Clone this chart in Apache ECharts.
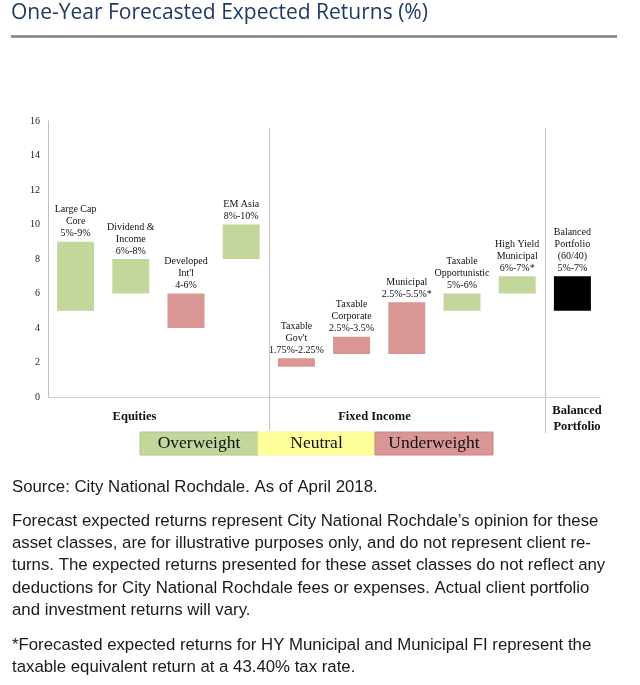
<!DOCTYPE html>
<html>
<head>
<meta charset="utf-8">
<script src="https://cdn.jsdelivr.net/npm/echarts@6/dist/echarts.min.js"></script>
<style>
html,body{margin:0;padding:0;background:#fff;}
#chart{width:640px;height:685px;}
</style>
</head>
<body>
<div id="chart"></div>
<script>
const categories = ["Large Cap Core", "Dividend & Income", "Developed Int'l", "EM Asia", "Taxable Gov't", "Taxable Corporate", "Municipal", "Taxable Opportunistic", "High Yield Municipal", "Balanced Portfolio (60/40)"];
const lows  = [5, 6, 4, 8, 1.75, 2.5, 2.5, 5, 6, 5];
const highs = [9, 8, 6, 10, 2.25, 3.5, 5.5, 6, 7, 7];
const stances = ["Overweight", "Overweight", "Underweight", "Overweight", "Underweight", "Underweight", "Underweight", "Overweight", "Overweight", "Balanced"];
const barLabels = [
  "Large Cap\nCore\n5%-9%",
  "Dividend &\nIncome\n6%-8%",
  "Developed\nInt'l\n4-6%",
  "EM Asia\n8%-10%",
  "Taxable\nGov't\n1.75%-2.25%",
  "Taxable\nCorporate\n2.5%-3.5%",
  "Municipal\n2.5%-5.5%*",
  "Taxable\nOpportunistic\n5%-6%",
  "High Yield\nMunicipal\n6%-7%*",
  "Balanced\nPortfolio\n(60/40)\n5%-7%"
];
const groupNames = ["Equities", "Fixed Income", "Balanced\nPortfolio"];
const legendItems = ["Overweight", "Neutral", "Underweight"];
const yMin = 0, yMax = 16, yInterval = 2;

const title = "One-Year Forecasted Expected Returns (%)";
const sourceText = "Source: City National Rochdale. As of April 2018.";
const disclaimerLines = [
  "Forecast expected returns represent City National Rochdale\u2019s opinion for these",
  "asset classes, are for illustrative purposes only, and do not represent client re-",
  "turns. The expected returns presented for these asset classes do not reflect any",
  "deductions for City National Rochdale fees or expenses. Actual client portfolio",
  "and investment returns will vary."
];
const footnoteLines = [
  "*Forecasted expected returns for HY Municipal and Municipal FI represent the",
  "taxable equivalent return at a 43.40% tax rate."
];

const colors = {Overweight: "#c3d69b", Neutral: "#ffff99", Underweight: "#d99694", Balanced: "#000000"};
const borders = {Overweight: "#b0c585", Neutral: "#f5f5a0", Underweight: "#c98583"};
const serif = "'Liberation Serif', 'DejaVu Serif', serif";
const sans = "'Liberation Sans', Arial, sans-serif";

const chart = echarts.init(document.getElementById('chart'), null, {renderer: 'canvas'});
const option = {
  animation: false,
  backgroundColor: '#fff',
  grid: {left: 48, right: 40, top: 121, bottom: 288, containLabel: false},
  xAxis: {
    type: 'category',
    data: categories,
    axisLine: {show: true, lineStyle: {color: '#d0d0d0', width: 1}},
    axisTick: {show: false},
    axisLabel: {show: false},
    splitLine: {show: false}
  },
  yAxis: {
    type: 'value',
    min: yMin, max: yMax, interval: yInterval,
    axisLine: {show: true, lineStyle: {color: '#bfbfbf', width: 1}},
    axisTick: {show: false},
    splitLine: {show: false},
    axisLabel: {fontFamily: serif, fontSize: 10, color: '#1a1a1a', margin: 8}
  },
  series: [
    {
      type: 'bar', stack: 'r', silent: true,
      data: lows,
      itemStyle: {color: 'transparent'},
      barWidth: 37
    },
    {
      type: 'bar', stack: 'r',
      data: highs.map((h, i) => ({value: h - lows[i], itemStyle: {color: colors[stances[i]]}})),
      barWidth: 37,
      label: {
        show: true, position: 'top', distance: 2,
        fontFamily: serif, fontSize: 10, color: '#111', lineHeight: 12, align: 'center',
        formatter: p => barLabels[p.dataIndex]
      }
    }
  ]
};
chart.setOption(option);

function px(i) { return chart.convertToPixel({xAxisIndex: 0}, i); }
const sepXs = [ (px(3) + px(4)) / 2, (px(8) + px(9)) / 2 ];
const graphics = [];
graphics.push({type: 'text', left: 11, top: 3, style: {text: title, fontFamily: "'Open Sans', 'Noto Sans', sans-serif", fontSize: 21, fill: '#1f3b63'}});
graphics.push({type: 'line', shape: {x1: 11, y1: 36.5, x2: 617, y2: 36.5}, style: {stroke: '#7f7f7f', lineWidth: 2.5}});
sepXs.forEach((x, k) => {
  graphics.push({type: 'line', shape: {x1: Math.round(x) + 0.5, y1: 128, x2: Math.round(x) + 0.5, y2: k === 0 ? 430 : 433}, style: {stroke: '#c8c8c8', lineWidth: 1.2}});
});
// group labels
const groupCenters = [134.5, 374.5, 577];
groupNames.forEach((g, k) => {
  graphics.push({type: 'text', x: groupCenters[k], y: k === 2 ? 419 : 417, style: {text: g, fontFamily: serif, fontSize: 12.5, fontWeight: 'bold', fill: '#111', align: 'center', verticalAlign: 'middle', lineHeight: 16}});
});
// legend boxes
const legX = [140, 258, 375, 493];
legendItems.forEach((l, k) => {
  graphics.push({type: 'rect', shape: {x: legX[k], y: 432, width: legX[k+1] - legX[k], height: 23}, style: {fill: colors[l], stroke: borders[l], lineWidth: 1}});
  graphics.push({type: 'text', x: (legX[k] + legX[k+1]) / 2, y: 443.5, style: {text: l, fontFamily: serif, fontSize: 17.5, fill: '#111', align: 'center', verticalAlign: 'middle'}});
});
// footer
const fs = 16.8;
graphics.push({type: 'text', x: 12, y: 487, style: {text: sourceText, fontFamily: sans, fontSize: fs, fill: '#1a1a1a', verticalAlign: 'middle'}});
disclaimerLines.forEach((t, k) => {
  graphics.push({type: 'text', x: 12, y: 521 + k * 22.4, style: {text: t, fontFamily: sans, fontSize: fs, fill: '#1a1a1a', verticalAlign: 'middle'}});
});
footnoteLines.forEach((t, k) => {
  graphics.push({type: 'text', x: 12, y: 645 + k * 22.4, style: {text: t, fontFamily: sans, fontSize: fs, fill: '#1a1a1a', verticalAlign: 'middle'}});
});
chart.setOption({graphic: graphics});
</script>
</body>
</html>
